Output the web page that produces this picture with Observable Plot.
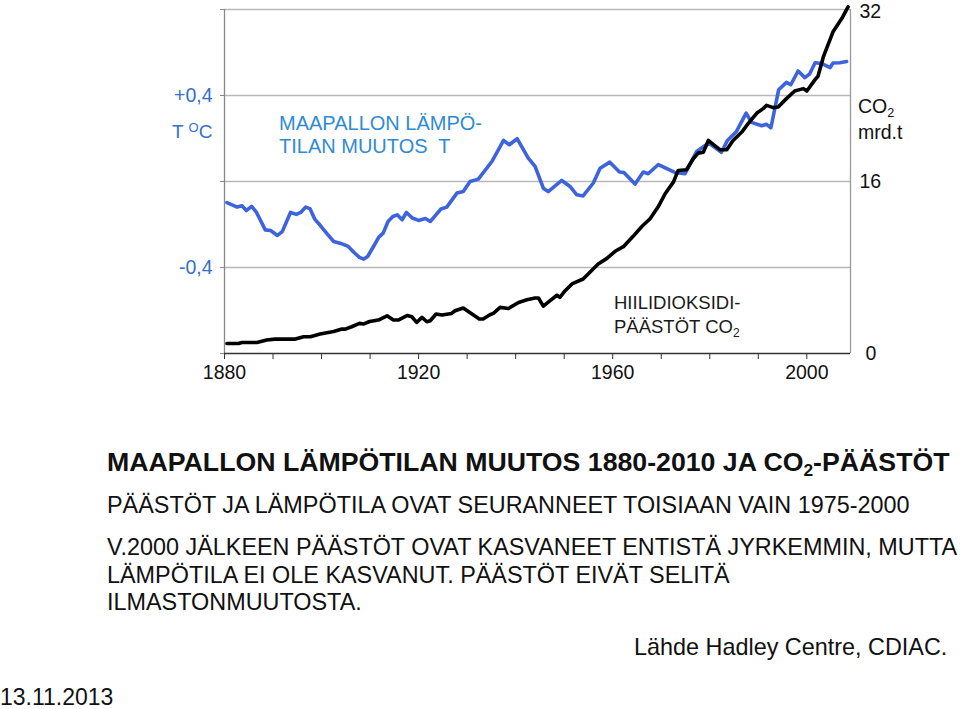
<!DOCTYPE html>
<html>
<head>
<meta charset="utf-8">
<script src="https://cdn.jsdelivr.net/npm/d3@7"></script>
<script src="https://cdn.jsdelivr.net/npm/@observablehq/plot@0.6"></script>
<style>
  html, body { margin: 0; padding: 0; background: #fff; }
  #wrap { position: relative; width: 960px; height: 709px; overflow: hidden; font-family: "Liberation Sans", Arial, sans-serif; }
  #chart { position: absolute; left: 0; top: 0; }
  #chart svg { overflow: visible; }
  #chart svg text { font-size: 19.5px !important; font-family: "Liberation Sans", Arial, sans-serif !important; }
  .ov { position: absolute; white-space: nowrap; }
  .sub { position: relative; top: 0.3em; font-size: 0.65em; }
</style>
</head>
<body>
<div id="wrap">
  <div id="chart"></div>
  <div class="ov" style="left:172px; top:120px; line-height:24px; font-size:19px; color:#3470c8;">T <span style="font-size:13px; position:relative; top:-6px;">O</span>C</div>
  <div class="ov" style="left:279px; top:112px; line-height:23px; font-size:20px; color:#2f8bd6;">MAAPALLON LÄMPÖ-<br>TILAN MUUTOS&nbsp; T</div>
  <div class="ov" style="left:614px; top:291px; line-height:24px; font-size:18.5px; color:#1a1a1a;">HIILIDIOKSIDI-<br>PÄÄSTÖT CO<span class="sub">2</span></div>
  <div class="ov" style="left:858px; top:95px; line-height:23px; font-size:19.5px; color:#111;">CO<span class="sub">2</span><br>mrd.t</div>
  <div class="ov" style="left:107px; top:448px; line-height:28px; font-size:26.7px; font-weight:bold; color:#111;">MAAPALLON LÄMPÖTILAN MUUTOS 1880-2010 JA CO<span class="sub">2</span>-PÄÄSTÖT</div>
  <div class="ov" style="left:107px; top:491px; line-height:28px; font-size:23.4px; color:#111;">PÄÄSTÖT JA LÄMPÖTILA OVAT SEURANNEET TOISIAAN VAIN 1975-2000</div>
  <div class="ov" style="left:107px; top:534px; line-height:27.5px; font-size:23.4px; color:#111;">V.2000 JÄLKEEN PÄÄSTÖT OVAT KASVANEET ENTISTÄ JYRKEMMIN, MUTTA<br>LÄMPÖTILA EI OLE KASVANUT. PÄÄSTÖT EIVÄT SELITÄ<br>ILMASTONMUUTOSTA.</div>
  <div class="ov" style="left:634px; top:633px; line-height:28px; font-size:23.4px; color:#111;">Lähde Hadley Centre, CDIAC.</div>
  <div class="ov" style="left:0px; top:683px; line-height:28px; font-size:23px; color:#111;">13.11.2013</div>
</div>
<script>
// Global temperature change (smoothed), °C
const tempYears = [1880.5,1882.6,1883.6,1884.5,1885.6,1886.6,1888.4,1889.5,1890.9,1891.9,1893.6,1894.8,1895.7,1896.7,1897.6,1898.6,1899.8,1901.2,1902.5,1904.2,1905.5,1906.7,1907.8,1908.7,1909.5,1910.8,1911.8,1912.7,1913.7,1914.7,1915.6,1916.6,1917.5,1918.7,1920.0,1921.4,1922.4,1923.0,1924.6,1925.8,1927.9,1929.2,1930.6,1932.3,1935.1,1937.5,1938.7,1940.3,1942.6,1944.0,1945.7,1946.7,1949.5,1951.2,1952.6,1953.9,1956.0,1957.4,1959.4,1961.4,1962.3,1964.6,1966.3,1967.3,1969.4,1972.8,1974.9,1977.3,1979.8,1982.4,1983.6,1985.5,1987.5,1988.6,1990.7,1991.7,1992.6,1994.2,1995.8,1996.7,1998.2,1999.6,2000.6,2001.7,2003.0,2004.8,2005.4,2006.8,2008.2];
const tempValues = [-0.098,-0.119,-0.113,-0.135,-0.116,-0.144,-0.225,-0.228,-0.251,-0.233,-0.144,-0.153,-0.144,-0.119,-0.126,-0.175,-0.206,-0.245,-0.279,-0.290,-0.302,-0.330,-0.353,-0.361,-0.349,-0.299,-0.259,-0.240,-0.186,-0.163,-0.155,-0.178,-0.144,-0.170,-0.181,-0.172,-0.186,-0.170,-0.128,-0.119,-0.054,-0.047,0.000,0.011,0.093,0.191,0.171,0.199,0.109,0.070,-0.031,-0.047,0.005,-0.023,-0.062,-0.067,-0.007,0.062,0.090,0.044,0.042,-0.012,0.044,0.036,0.079,0.042,0.036,0.140,0.179,0.136,0.189,0.233,0.318,0.275,0.259,0.266,0.250,0.427,0.461,0.450,0.514,0.483,0.501,0.552,0.549,0.530,0.551,0.552,0.558];

// CO2 emissions, billion tonnes (mrd.t)
const co2Years = [1880.5,1882.9,1883.6,1886.7,1888.7,1890.4,1894.6,1896.3,1897.7,1899.7,1902.5,1904.2,1904.9,1906.2,1907.8,1908.6,1909.9,1911.7,1913.5,1914.8,1915.8,1917.7,1918.6,1919.6,1920.7,1921.7,1922.4,1923.6,1924.8,1926.8,1927.5,1929.2,1931.0,1932.5,1933.3,1934.7,1935.4,1936.8,1938.5,1940.6,1942.3,1944.0,1944.7,1945.7,1947.1,1948.5,1949.1,1950.2,1951.6,1953.9,1955.3,1957.0,1958.8,1960.5,1962.2,1964.2,1966.0,1967.7,1969.4,1970.8,1972.5,1973.5,1975.2,1976.6,1977.6,1978.7,1979.7,1980.7,1982.1,1983.5,1984.8,1986.6,1987.9,1989.7,1991.0,1991.7,1993.1,1994.1,1995.8,1997.5,1999.3,2000.0,2001.7,2002.3,2003.4,2005.4,2007.2,2008.5];
const co2Values = [0.93,0.93,1.03,1.03,1.25,1.34,1.34,1.56,1.56,1.81,2.05,2.27,2.27,2.49,2.80,2.74,2.98,3.11,3.51,3.11,3.11,3.54,3.42,2.89,3.36,2.95,3.05,3.67,3.58,3.73,3.98,4.23,3.67,3.21,3.21,3.61,3.73,4.29,4.19,4.75,5.00,5.16,5.16,4.40,4.91,5.42,5.22,5.84,6.47,6.93,7.55,8.33,8.85,9.51,9.94,10.90,11.81,12.53,13.67,14.86,15.94,17.03,17.09,18.12,18.64,18.73,19.82,19.45,18.96,18.96,19.82,20.60,21.38,22.37,22.78,23.08,22.87,22.93,23.71,24.42,24.64,24.42,25.48,25.79,27.59,29.92,31.16,32.25];

// Axes
const xDomain = [1880, 2009];
const xTickYears = [1880,1890,1900,1910,1920,1930,1940,1950,1960,1970,1980,1990,2000];
const xLabelYears = [1880,1920,1960,2000];
const tempDomain = [-0.8, 0.8];
const tempGrid = [-0.4, 0, 0.4, 0.8];
const tempTickAll = [-0.8, -0.4, 0, 0.4, 0.8];
const tempLabelTicks = [-0.4, 0.4];
const tempLabelText = ["-0,4", "+0,4"];
const co2Domain = [0, 32];
const co2TickTop = [32];
const co2TickMid = [16];
const co2TickBottom = [0];

const temp = tempYears.map((y, i) => ({year: y, t: tempValues[i]}));
const co2 = co2Years.map((y, i) => ({year: y, c: co2Values[i]}));

// map CO2 onto the temperature scale (secondary axis)
const co2ToT = c => tempDomain[0] + (c - co2Domain[0]) / (co2Domain[1] - co2Domain[0]) * (tempDomain[1] - tempDomain[0]);
const tToCo2 = t => co2Domain[0] + (t - tempDomain[0]) / (tempDomain[1] - tempDomain[0]) * (co2Domain[1] - co2Domain[0]);
const co2Fmt = t => String(Math.round(tToCo2(t)));

const blue = "#3d64dd";
const axisBlue = "#3470c8";

const chart = Plot.plot({
  width: 960,
  height: 390,
  marginLeft: 224,
  marginRight: 110,
  marginTop: 9,
  marginBottom: 37,
  style: {fontFamily: '"Liberation Sans", Arial, sans-serif', fontSize: "19px", background: "transparent", overflow: "visible"},
  x: {domain: xDomain, label: null},
  y: {domain: tempDomain, label: null},
  marks: [
    Plot.gridY(tempGrid, {stroke: "#b8b8b8", strokeOpacity: 1, strokeWidth: 1.3}),
    Plot.ruleX([xDomain[0]], {stroke: "#888", strokeWidth: 1.3}),
    Plot.ruleX([xDomain[1]], {stroke: "#999", strokeWidth: 1.3}),
    Plot.ruleY([tempDomain[0]], {stroke: "#333", strokeWidth: 1.3}),
    Plot.axisY(tempTickAll, {anchor: "left", label: null, tickSize: 4, stroke: "#888", tickFormat: () => ""}),
    Plot.axisY(tempLabelTicks, {anchor: "left", label: null, tickSize: 0, tickPadding: 12, fill: axisBlue,
      tickFormat: t => tempLabelText[tempLabelTicks.indexOf(t)]}),
    Plot.axisY(co2TickTop.map(co2ToT), {anchor: "right", label: null, tickSize: 0, tickPadding: 9, dy: 2, fill: "#111", tickFormat: co2Fmt}),
    Plot.axisY(co2TickMid.map(co2ToT), {anchor: "right", label: null, tickSize: 0, tickPadding: 9, fill: "#111", tickFormat: co2Fmt}),
    Plot.axisY(co2TickBottom.map(co2ToT), {anchor: "right", label: null, tickSize: 0, tickPadding: 15, fill: "#111", tickFormat: co2Fmt}),
    Plot.axisX(xTickYears, {anchor: "bottom", label: null, tickSize: 6, stroke: "#333", tickPadding: 6, fill: "#111",
      tickFormat: y => xLabelYears.includes(y) ? String(y) : ""}),
    Plot.line(temp, {x: "year", y: "t", stroke: blue, strokeWidth: 3.6, strokeLinejoin: "round"}),
    Plot.line(co2, {x: "year", y: d => co2ToT(d.c), stroke: "#000", strokeWidth: 3.6, strokeLinejoin: "round"})
  ]
});
document.getElementById("chart").appendChild(chart);
</script>
</body>
</html>
